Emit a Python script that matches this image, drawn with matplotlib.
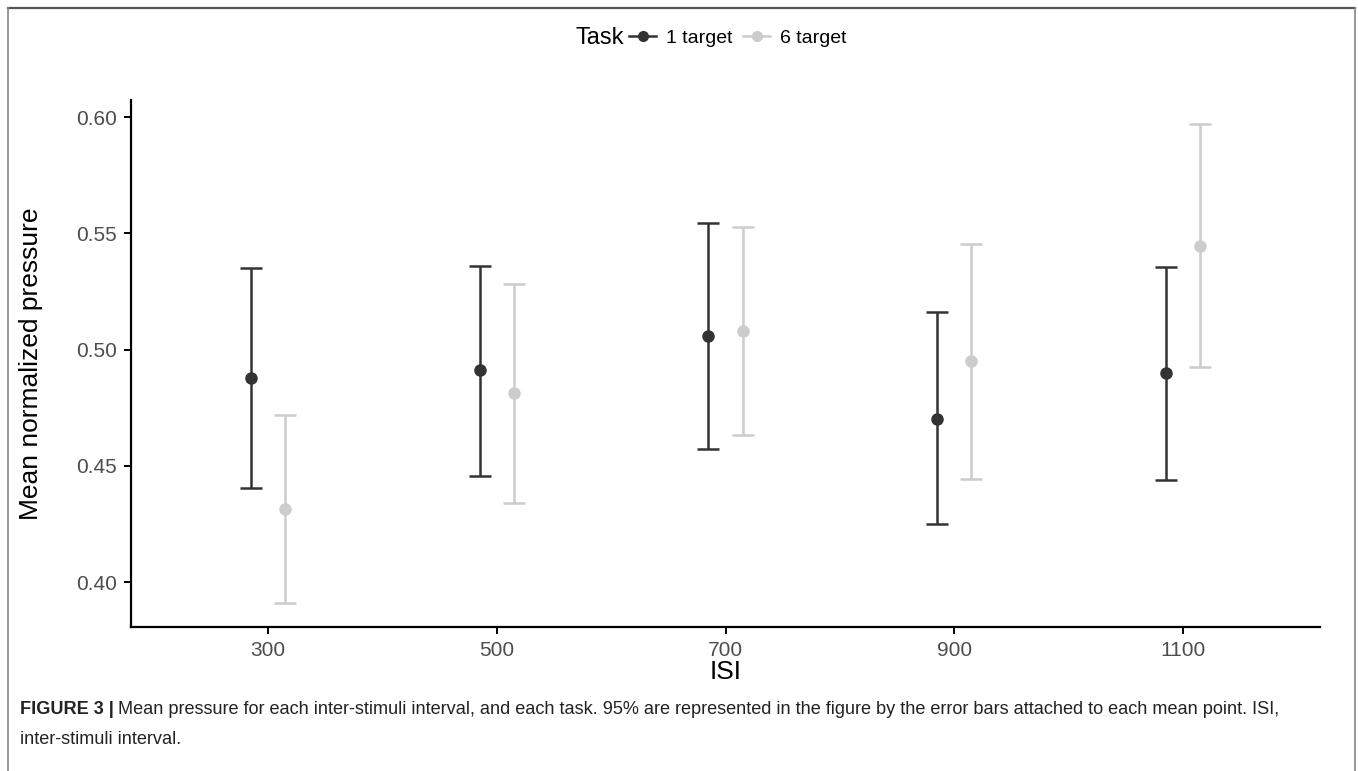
import matplotlib
matplotlib.use("Agg")
import matplotlib.pyplot as plt
from matplotlib.lines import Line2D
import numpy as np

plt.rcParams['font.family'] = ['Liberation Sans', 'DejaVu Sans']

isi = [300, 500, 700, 900, 1100]
tasks = ["1 target", "6 target"]
one_mean = [0.4876, 0.4912, 0.5059, 0.4701, 0.4898]
one_lo = [0.4403, 0.4457, 0.4571, 0.4248, 0.4440]
one_hi = [0.5351, 0.5361, 0.5546, 0.5161, 0.5354]
six_mean = [0.4314, 0.4812, 0.5080, 0.4951, 0.5446]
six_lo = [0.3908, 0.4341, 0.4631, 0.4445, 0.4924]
six_hi = [0.4719, 0.5284, 0.5528, 0.5456, 0.5972]
yticks = [0.40, 0.45, 0.50, 0.55, 0.60]
ytick_labels = ["0.40", "0.45", "0.50", "0.55", "0.60"]

colors = ["#333333", "#cccccc"]
dodge = 15

W, H = 1358, 771
fig = plt.figure(figsize=(W / 100, H / 100), dpi=100)
ax = fig.add_axes([131 / W, 1 - 626.7 / H, (1320 - 131) / W, (626.7 - 100) / H])

series = [(one_mean, one_lo, one_hi), (six_mean, six_lo, six_hi)]
for k, (m, lo, hi) in enumerate(series):
    x = np.array(isi) + (-dodge if k == 0 else dodge)
    m = np.array(m); lo = np.array(lo); hi = np.array(hi)
    ax.errorbar(x, m, yerr=[m - lo, hi - m], fmt='o', color=colors[k],
                ecolor=colors[k], elinewidth=1.8, capsize=8.2, capthick=1.8,
                markersize=8, zorder=3 + k)

ax.set_xlim(180, 1220)
ax.set_ylim(0.3808, 0.6074)
ax.set_xticks(isi)
ax.set_xticklabels([str(v) for v in isi])
ax.set_yticks(yticks)
ax.set_yticklabels(ytick_labels)
ax.tick_params(axis='both', colors='black', labelcolor='#4d4d4d',
               labelsize=15, length=5, width=1.4, direction='out')
ax.tick_params(axis='x', pad=5)
ax.tick_params(axis='y', pad=5)
for s in ['top', 'right']:
    ax.spines[s].set_visible(False)
for s in ['left', 'bottom']:
    ax.spines[s].set_linewidth(1.6)
    ax.spines[s].set_color('black')
ax.set_xlabel("ISI", fontsize=19, labelpad=0)
ax.set_ylabel("Mean normalized pressure", fontsize=19, labelpad=24)

# legend
fig.text(575 / W, 1 - 38 / H, "Task", fontsize=17, ha='left', va='center')
handles = [Line2D([], [], color=colors[i], marker='o', markersize=7, lw=1.8)
           for i in range(2)]
leg = fig.legend(handles, tasks, loc='center left',
                 bbox_to_anchor=(629 / W, 1 - 38 / H), ncol=2, frameon=False,
                 fontsize=14, handlelength=1.4, handletextpad=0.5,
                 columnspacing=0.55, borderaxespad=0, borderpad=0)

# caption
fig.canvas.draw()
r = fig.canvas.get_renderer()
cap_fs = 13.1
t1 = fig.text(20 / W, 1 - 709 / H, "FIGURE 3 |", fontsize=cap_fs,
              fontweight='bold', color='#222222', ha='left', va='center')
bb = t1.get_window_extent(renderer=r)
fig.text((bb.x1 + 4) / W, 1 - 709 / H,
         "Mean pressure for each inter-stimuli interval, and each task. 95% are "
         "represented in the figure by the error bars attached to each mean point. ISI,",
         fontsize=cap_fs, color='#222222', ha='left', va='center')
fig.text(20 / W, 1 - 739 / H, "inter-stimuli interval.", fontsize=cap_fs,
         color='#222222', ha='left', va='center')

# frame border
for (xs, ys, c, lw) in [([8, 1355], [8, 8], '#555555', 1.6),
                        ([8, 8], [8, 771], '#888888', 1.2),
                        ([1355, 1355], [8, 771], '#888888', 1.2)]:
    fig.add_artist(Line2D([x / W for x in xs], [1 - y / H for y in ys],
                          color=c, lw=lw, transform=fig.transFigure))

fig.savefig("out.png", dpi=100)
